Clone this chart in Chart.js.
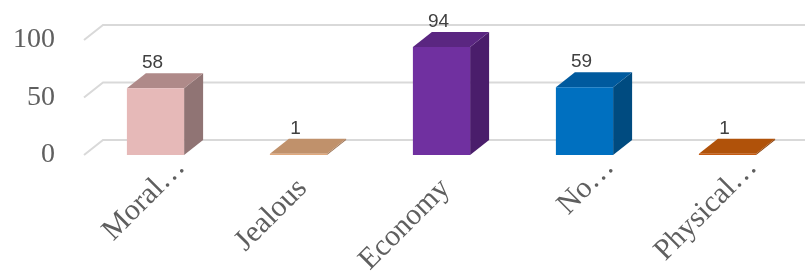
<!DOCTYPE html>
<html>
<head>
<meta charset="utf-8">
<script src="https://cdn.jsdelivr.net/npm/chart.js@4/dist/chart.umd.min.js"></script>
<style>
  html, body { margin: 0; padding: 0; background: #fff; }
  #chart { display: block; }
</style>
</head>
<body>
<canvas id="chart" width="805" height="277"></canvas>
<script>
// chart data
const categories = ['Moral…', 'Jealous', 'Economy', 'No…', 'Physical…'];
const values = [58, 1, 94, 59, 1];
const yTicks = [0, 50, 100];

// face colours (front / top / side)
const frontColors = ['#E6B9B8', '#E0A97D', '#7030A0', '#0070C0', '#C55A11'];
const topColors = ['#AF8A89', '#C0916B', '#5A2681', '#005A9E', '#B0520A'];
const sideColors = ['#907474', '#9C7456', '#4A1D6B', '#004B80', '#8A400A'];

// depth of the 3D effect
const depthX = 19;
const depthY = -15;

const serif = '"Liberation Serif", "DejaVu Serif", serif';

// back wall gridlines and bar top/side faces
const box3d = {
  id: 'box3d',
  beforeDatasetsDraw(chart) {
    const ctx = chart.ctx;
    const y = chart.scales.y;
    const area = chart.chartArea;
    ctx.save();
    ctx.strokeStyle = '#D9D9D9';
    ctx.lineWidth = 2;
    yTicks.forEach(v => {
      const py = y.getPixelForValue(v);
      ctx.beginPath();
      ctx.moveTo(area.left, py);
      ctx.lineTo(area.left + depthX, py + depthY);
      ctx.lineTo(chart.width + 20, py + depthY);
      ctx.stroke();
    });

    chart.getDatasetMeta(0).data.forEach((bar, i) => {
      const l = bar.x - bar.width / 2;
      const r = bar.x + bar.width / 2;
      ctx.fillStyle = sideColors[i];
      ctx.beginPath();
      ctx.moveTo(r, bar.y);
      ctx.lineTo(r + depthX, bar.y + depthY);
      ctx.lineTo(r + depthX, bar.base + depthY);
      ctx.lineTo(r, bar.base);
      ctx.closePath();
      ctx.fill();
      ctx.fillStyle = topColors[i];
      ctx.beginPath();
      ctx.moveTo(l, bar.y);
      ctx.lineTo(r, bar.y);
      ctx.lineTo(r + depthX, bar.y + depthY);
      ctx.lineTo(l + depthX, bar.y + depthY);
      ctx.closePath();
      ctx.fill();
    });
    ctx.restore();
  },
  afterDatasetsDraw(chart) {
    const ctx = chart.ctx;
    ctx.save();
    // value labels
    ctx.font = '19px "Liberation Sans", Arial, sans-serif';
    ctx.fillStyle = '#404040';
    ctx.textAlign = 'center';
    ctx.textBaseline = 'alphabetic';
    chart.getDatasetMeta(0).data.forEach((bar, i) => {
      ctx.fillText(String(values[i]), bar.x - 3, bar.y + depthY - 5);
    });

    // rotated category labels, truncated part hangs past the tick
    const x = chart.scales.x;
    ctx.font = '30px ' + serif;
    ctx.fillStyle = '#5F5F5F';
    ctx.textBaseline = 'middle';
    categories.forEach((label, i) => {
      const px = x.getPixelForTick(i);
      ctx.save();
      ctx.translate(px + 4, 184);
      ctx.rotate(-Math.PI / 4);
      let core = label;
      let tail = '';
      if (label.endsWith('…')) {
        core = label.slice(0, -1);
        tail = '…';
      }
      ctx.textAlign = 'right';
      ctx.fillText(core, 0, 0);
      if (tail) {
        ctx.textAlign = 'left';
        ctx.fillText(tail, 0, 0);
      }
      ctx.restore();
    });
    ctx.restore();
  }
};

new Chart(document.getElementById('chart'), {
  type: 'bar',
  data: {
    labels: categories,
    datasets: [{
      data: values,
      backgroundColor: frontColors,
      borderWidth: 0,
      barPercentage: 0.4,
      categoryPercentage: 1
    }]
  },
  options: {
    responsive: false,
    animation: false,
    layout: { padding: { top: 40, bottom: 122, left: 0, right: 6 } },
    plugins: {
      legend: { display: false },
      tooltip: { enabled: false }
    },
    scales: {
      x: { display: false },
      y: {
        min: 0,
        max: 100,
        ticks: {
          stepSize: 50,
          padding: 29,
          color: '#5F5F5F',
          font: { family: serif, size: 28 }
        },
        grid: { display: false, drawTicks: false },
        border: { display: false },
        afterFit(scale) {
          // fixed axis width, and no extra room for the end labels
          scale.width = 84;
          scale.paddingTop = 0;
          scale.paddingBottom = 0;
        }
      }
    }
  },
  plugins: [box3d]
});
</script>
</body>
</html>
